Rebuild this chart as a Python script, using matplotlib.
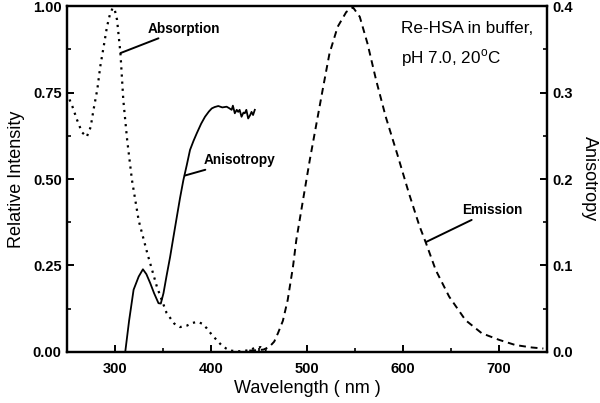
import numpy as np
import matplotlib.pyplot as plt
from matplotlib.ticker import MultipleLocator

plt.rcParams['font.family'] = ['Liberation Sans', 'DejaVu Sans']

# absorption (dotted, left axis)
abs_nm = [253, 256, 261, 266, 271, 275, 278, 282, 285, 289, 292, 295, 298, 300, 302.5, 306, 309,
          313, 318, 325, 334, 344, 354, 362, 368, 375, 381, 386, 391, 396, 401, 406, 411, 416, 420,
          430, 440, 446, 452, 458]
abs_val = [0.73, 0.71, 0.67, 0.635, 0.622, 0.65, 0.70, 0.76, 0.825, 0.89, 0.94, 0.975, 0.995, 0.99,
           0.96, 0.864, 0.728, 0.613, 0.497, 0.38, 0.285, 0.188, 0.113, 0.082, 0.072, 0.076, 0.084,
           0.087, 0.082, 0.068, 0.05, 0.035, 0.02, 0.01, 0.004, 0.002, 0.005, 0.012, 0.014, 0.004]

# anisotropy (solid, right axis)
ani_nm = [311, 315, 319.7, 325, 329.4, 333, 337, 341, 345.6, 348, 350.8, 354, 357.7, 361, 364.7,
          368, 371.5, 375, 378.4, 382, 385.4, 390, 394, 398, 401, 404, 407.8, 412, 416.5, 419,
          421.7, 423, 425, 427, 428.5, 430, 432, 434, 435.4, 437, 438.9, 441, 442.4, 444, 445.8]
ani_left = [0.0, 0.09, 0.18, 0.218, 0.239, 0.225, 0.199, 0.17, 0.141, 0.14, 0.17, 0.22, 0.275, 0.33,
            0.391, 0.445, 0.497, 0.54, 0.584, 0.61, 0.632, 0.66, 0.68, 0.695, 0.704, 0.708, 0.711,
            0.707, 0.709, 0.705, 0.70, 0.712, 0.69, 0.70, 0.694, 0.70, 0.68, 0.692, 0.69, 0.70,
            0.675, 0.685, 0.694, 0.685, 0.70]
ani_val = [v * 0.4 for v in ani_left]

# emission (dashed, left axis)
em_nm = [440, 448, 455, 461, 466, 470, 475, 480, 485.5, 489, 496, 503, 510, 517, 523.5, 532, 541,
         548, 555, 563, 572, 582, 594, 606, 617, 624, 634, 648, 665, 682, 700, 717, 734, 746]
em_val = [0.004, 0.005, 0.007, 0.015, 0.03, 0.055, 0.09, 0.15, 0.246, 0.324, 0.44, 0.555, 0.661,
          0.767, 0.863, 0.94, 0.983, 0.996, 0.969, 0.892, 0.786, 0.68, 0.572, 0.46, 0.365, 0.314,
          0.237, 0.16, 0.092, 0.054, 0.035, 0.02, 0.013, 0.01]

fig = plt.figure(figsize=(6, 4.03), dpi=100)
ax = fig.add_axes([0.111, 0.1266, 0.801, 0.8584])
ax2 = ax.twinx()

ax.plot(abs_nm, abs_val, color='black', linestyle=(0, (1, 2.2)), lw=1.6)
ax.plot(em_nm, em_val, color='black', linestyle=(0, (3.5, 2.5)), lw=1.4)
ax2.plot(ani_nm, ani_val, color='black', lw=1.3)

ax.set_xlim(250, 750)
ax.set_ylim(0, 1.0)
ax2.set_ylim(0, 0.4)

ax.xaxis.set_major_locator(MultipleLocator(100))
ax.xaxis.set_minor_locator(MultipleLocator(50))
ax.yaxis.set_major_locator(MultipleLocator(0.25))
ax.yaxis.set_minor_locator(MultipleLocator(0.125))
ax2.yaxis.set_major_locator(MultipleLocator(0.1))
ax2.yaxis.set_minor_locator(MultipleLocator(0.05))
ax.yaxis.set_major_formatter(lambda v, p: f'{v:.2f}')
ax2.yaxis.set_major_formatter(lambda v, p: f'{v:.1f}')

for a in (ax, ax2):
    for s in a.spines.values():
        s.set_linewidth(1.6)
    a.tick_params(which='major', direction='in', length=5, width=1.4, labelsize=10.5)
    a.tick_params(which='minor', direction='in', length=3, width=1.2)
    for lab in a.get_xticklabels() + a.get_yticklabels():
        lab.set_fontweight('bold')
ax.tick_params(axis='x', which='both', top=False, pad=7)
ax.tick_params(axis='y', which='both', right=False)
ax2.tick_params(axis='y', which='both', left=False)

ax.set_xlabel('Wavelength ( nm )', fontsize=13, labelpad=3)
ax.set_ylabel('Relative Intensity', fontsize=13, labelpad=6)
ax2.set_ylabel('Anisotropy', fontsize=13, rotation=270, labelpad=18)

line = dict(arrowstyle='-', color='black', lw=1.4, shrinkA=0, shrinkB=0)
ax.annotate('Absorption', xy=(306, 0.864), xytext=(334, 0.935), fontsize=9.8, fontweight='bold',
            arrowprops=line, va='center', ha='left')
ax.annotate('Anisotropy', xy=(373, 0.51), xytext=(393, 0.555), fontsize=9.8, fontweight='bold',
            arrowprops=line, va='center', ha='left')
ax.annotate('Emission', xy=(624, 0.318), xytext=(661, 0.41), fontsize=9.8, fontweight='bold',
            arrowprops=line, va='center', ha='left')

ax.text(598, 0.935, 'Re-HSA in buffer,', fontsize=12.3, va='center', ha='left')
ax.text(598, 0.85, 'pH 7.0, 20$^\\mathregular{o}$C', fontsize=12.3, va='center', ha='left')

fig.savefig('out.png', dpi=100)
